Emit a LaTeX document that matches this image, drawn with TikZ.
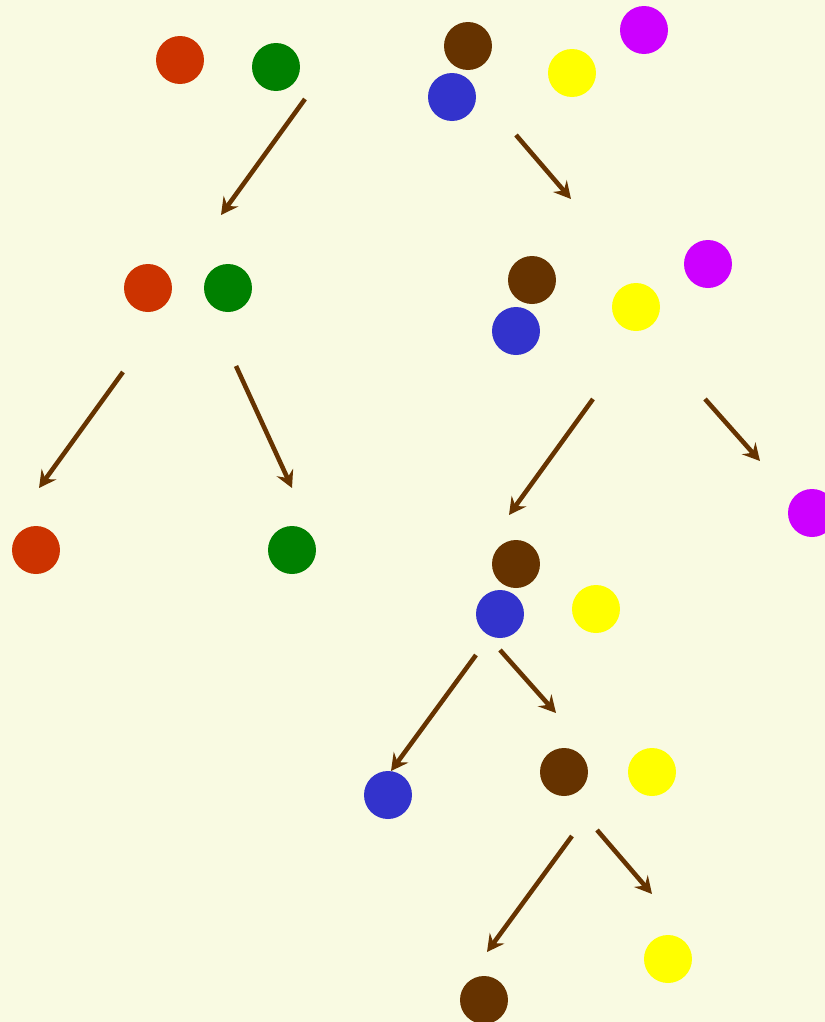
\documentclass[tikz,border=0pt]{standalone}
\usepackage{xcolor}
\usetikzlibrary{arrows.meta}
\definecolor{bg}{RGB}{249,250,226}
\definecolor{red}{RGB}{204,51,0}
\definecolor{green}{RGB}{0,128,0}
\definecolor{brown}{RGB}{102,51,0}
\definecolor{blue}{RGB}{51,51,204}
\definecolor{yellow}{RGB}{255,255,0}
\definecolor{magenta}{RGB}{204,0,255}

\begin{document}
\begin{tikzpicture}[x=0.02cm, y=-0.02cm,
  ball/.style={circle, inner sep=0pt, minimum size=0.96cm},
  link/.style={-{Stealth[length=3.4mm, width=3.6mm, inset=1.2mm]}, line width=2.6pt, brown}]
\fill[bg] (0,0) rectangle (825,1022);
\useasboundingbox (0,0) rectangle (825,1022);
% top
\node[ball, fill=red] (r0) at (180,60) {};
\node[ball, fill=green] (g0) at (276,67) {};
\node[ball, fill=brown] (b0) at (468,46) {};
\node[ball, fill=blue] (u0) at (452,97) {};
\node[ball, fill=yellow] (y0) at (572,73) {};
\node[ball, fill=magenta] (m0) at (644,30) {};
% level 1
\node[ball, fill=red] (r1) at (148,288) {};
\node[ball, fill=green] (g1) at (228,288) {};
\node[ball, fill=brown] (b1) at (532,280) {};
\node[ball, fill=blue] (u1) at (516,331) {};
\node[ball, fill=yellow] (y1) at (636,307) {};
\node[ball, fill=magenta] (m1) at (708,264) {};
% level 2
\node[ball, fill=red] (r2) at (36,550) {};
\node[ball, fill=green] (g2) at (292,550) {};
\node[ball, fill=brown] (b2) at (516,564) {};
\node[ball, fill=blue] (u2) at (500,614) {};
\node[ball, fill=yellow] (y2) at (596,609) {};
\node[ball, fill=magenta] (m2) at (812,513) {};
% level 3
\node[ball, fill=blue] (u3) at (388,795) {};
\node[ball, fill=brown] (b3) at (564,772) {};
\node[ball, fill=yellow] (y3) at (652,772) {};
% level 4
\node[ball, fill=brown] (b4) at (484,1000) {};
\node[ball, fill=yellow] (y4) at (668,959) {};
% arrow ends
\coordinate (a1s) at (305,99);  \coordinate (a1e) at (221,215);
\coordinate (a2s) at (516,135); \coordinate (a2e) at (571,199);
\coordinate (a3s) at (123,372); \coordinate (a3e) at (39,488);
\coordinate (a4s) at (236,366); \coordinate (a4e) at (292,488);
\coordinate (a5s) at (593,399); \coordinate (a5e) at (509,515);
\coordinate (a6s) at (705,399); \coordinate (a6e) at (760,461);
\coordinate (a7s) at (476,655); \coordinate (a7e) at (391,771);
\coordinate (a8s) at (500,650); \coordinate (a8e) at (556,713);
\coordinate (a9s) at (572,836); \coordinate (a9e) at (487,952);
\coordinate (a10s) at (597,830); \coordinate (a10e) at (652,894);
\foreach \i in {1,...,10}
  \draw[link] (a\i s) -- (a\i e);
\end{tikzpicture}
\end{document}
